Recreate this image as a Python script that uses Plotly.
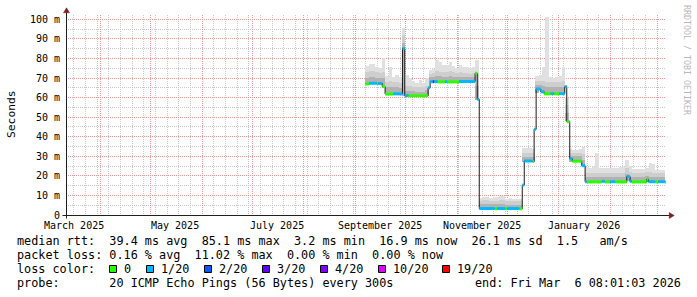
import pandas as pd
import plotly.graph_objects as go

# ---------------- data ----------------
T_START = "2025-03-11 08:01:03"
T_END = "2026-03-06 08:01:03"

y_tick_vals = [0, 10, 20, 30, 40, 50, 60, 70, 80, 90, 100]
y_tick_text = ["0", "10 m", "20 m", "30 m", "40 m", "50 m", "60 m", "70 m", "80 m", "90 m", "100 m"]

x_label_dates = ["2025-03-16", "2025-05-16", "2025-07-16", "2025-09-16", "2025-11-16", "2026-01-16"]
x_label_text = ["March 2025", "May 2025", "July 2025", "September 2025", "November 2025", "January 2026"]

loss_labels = ["0", "1/20", "2/20", "3/20", "4/20", "10/20", "19/20"]
loss_colors = ["#26ff00", "#00b8ff", "#0059ff", "#5e00ff", "#7e00ff", "#dd00ff", "#ff0000"]

# median rtt (ms) as runs: start time, value, loss class
med_start = [
    "2025-09-07 00:00", "2025-09-09 07:00", "2025-09-13 19:00", "2025-09-14 17:00", "2025-09-17 02:00",
    "2025-09-18 19:00", "2025-09-23 17:00", "2025-09-29 05:00", "2025-09-30 14:00", "2025-10-02 17:00",
    "2025-10-14 14:00", "2025-10-15 19:00", "2025-10-17 10:00", "2025-10-18 05:00", "2025-10-20 02:00",
    "2025-10-24 19:00", "2025-10-26 00:00", "2025-11-02 05:00", "2025-11-11 19:00", "2025-11-13 02:00",
    "2025-11-14 07:00", "2025-11-23 12:00", "2025-11-25 02:00", "2025-11-29 19:00", "2025-12-01 02:00",
    "2025-12-08 07:00", "2025-12-10 02:00", "2025-12-11 07:00", "2025-12-16 05:00", "2025-12-17 05:00",
    "2025-12-18 10:00", "2025-12-21 05:00", "2025-12-23 05:00", "2025-12-27 05:00", "2025-12-29 05:00",
    "2026-01-01 05:00", "2026-01-04 14:00", "2026-01-05 19:00", "2026-01-07 14:00", "2026-01-09 02:00",
    "2026-01-14 19:00", "2026-01-16 19:00", "2026-01-17 19:00", "2026-01-26 19:00", "2026-01-28 14:00",
    "2026-01-31 19:00", "2026-02-03 19:00", "2026-02-10 19:00", "2026-02-12 19:00", "2026-02-13 19:00",
    "2026-02-22 19:00", "2026-02-23 19:00", "2026-02-27 19:00", "2026-03-01 17:00", "2026-03-05 17:00",
]
med_ms = [
    67.0, 67.3, 67.0, 67.2, 65.6,
    61.8, 61.9, 85.1, 61.0, 60.9,
    65.0, 68.1, 68.1, 68.2, 68.0,
    68.1, 68.0, 68.2, 72.4, 59.1,
    3.3, 3.2, 3.3, 3.2, 3.3,
    3.2, 15.3, 27.6, 27.4, 43.8,
    64.4, 63.0, 61.9, 62.0, 61.9,
    62.0, 65.6, 47.7, 28.8, 27.5,
    25.2, 17.0, 16.9, 17.2, 16.9,
    17.0, 16.9, 19.6, 17.2, 16.9,
    18.3, 17.0, 16.9, 17.0, 16.9,
]
med_loss = [
    0, 1, 0, 1, 0,
    0, 1, 1, 1, 0,
    1, 1, 3, 1, 0,
    1, 0, 1, 0, 1,
    1, 0, 1, 0, 1,
    0, 1, 1, 0, 1,
    1, 1, 0, 1, 0,
    1, 1, 0, 1, 0,
    1, 1, 0, 1, 0,
    1, 0, 1, 1, 0,
    0, 1, 0, 1, 0,
]
MED_END = "2026-03-06 08:01:03"

# smoke (ping spread, ms) in 2-day bins starting 2025-09-07
SMOKE_FIRST = "2025-09-07"
smoke_lo = [66.8, 66.9, 66.9, 66.7, 67.0, 65.5,
            61.6, 61.6, 61.7, 61.8, 61.8, 61.0,
            60.8, 60.6, 60.6, 60.6, 60.6, 60.6, 60.8,
            67.8, 67.8, 67.8, 68.0, 68.0, 68.0, 68.0, 68.0, 68.0, 68.0, 68.0, 68.0, 68.0, 68.0, 59.0,
            3.2, 3.2, 3.2, 3.2, 3.2, 3.2, 3.2, 3.2, 3.2, 3.2, 3.2, 3.2, 3.2,
            27.3, 27.3, 27.3, 27.3, 62.5,
            64.0, 62.5, 61.7, 61.7, 61.7, 61.7, 61.7, 61.7, 48.0,
            27.3, 27.3, 27.3, 27.3, 25.0,
            16.7, 16.7, 16.7, 16.7, 16.7, 16.7, 16.7, 16.7, 16.7, 16.7, 16.7, 16.7,
            17.5, 17.0, 16.7, 16.7, 16.7, 16.7, 17.0, 16.7, 16.7, 16.7, 16.7, 16.7]
smoke_dark = [70.0, 70.5, 70.5, 70.0, 70.0, 70.0,
              65.5, 65.5, 65.5, 65.5, 65.0, 88.0,
              63.5, 63.5, 63.5, 63.0, 63.0, 63.0, 64.0,
              70.5, 70.5, 71.0, 71.0, 70.5, 70.5, 71.0, 70.5, 70.5, 70.5, 70.5, 70.5, 70.5, 70.5, 66.0,
              5.5, 5.5, 5.5, 5.5, 5.5, 5.5, 5.5, 5.5, 5.2, 5.2, 5.2, 5.2, 5.2,
              29.5, 29.5, 29.5, 29.5, 66.5,
              66.5, 66.0, 65.5, 65.5, 65.5, 65.5, 65.5, 65.5, 52.0,
              30.0, 30.0, 30.0, 30.0, 28.0,
              19.5, 19.5, 19.5, 19.5, 19.5, 19.5, 19.5, 19.5, 19.5, 19.5, 19.5, 19.5,
              21.0, 19.5, 19.5, 19.5, 19.5, 19.5, 19.8, 19.5, 19.5, 19.5, 19.5, 19.5]
smoke_mid = [73.0, 73.5, 73.5, 73.0, 72.5, 73.0,
             68.0, 68.5, 68.0, 68.0, 67.5, 92.0,
             66.0, 66.0, 65.5, 65.5, 65.5, 65.5, 66.0,
             72.0, 72.5, 73.5, 73.0, 73.0, 73.0, 73.5, 73.0, 72.5, 73.0, 72.5, 72.5, 72.0, 72.5, 72.0,
             7.0, 7.5, 7.5, 7.0, 7.0, 7.0, 7.5, 7.5, 7.0, 7.0, 7.0, 7.0, 7.0,
             31.5, 31.5, 31.5, 31.5, 68.5,
             68.5, 68.5, 68.0, 68.0, 68.0, 68.0, 68.0, 68.5, 56.0,
             31.5, 31.5, 31.5, 31.5, 31.0,
             21.5, 21.5, 21.5, 21.5, 21.5, 21.5, 21.5, 21.5, 21.5, 21.5, 21.5, 21.5,
             24.0, 22.0, 21.5, 21.5, 21.5, 21.5, 22.0, 22.0, 21.5, 21.5, 21.5, 21.5]
smoke_hi = [76.0, 77.0, 77.0, 75.8, 75.0, 80.0,
            71.0, 75.8, 70.5, 71.5, 70.5, 95.7,
            71.5, 70.0, 68.5, 67.5, 69.0, 67.5, 70.0,
            74.0, 74.5, 79.0, 78.0, 76.5, 76.5, 78.2, 76.0, 75.0, 76.5, 75.8, 75.5, 74.9, 75.5, 79.0,
            8.5, 9.4, 9.0, 8.5, 8.9, 9.0, 9.7, 9.7, 8.2, 8.5, 8.2, 8.2, 8.2,
            34.0, 34.0, 34.1, 33.5, 71.0,
            71.5, 75.8, 101.0, 70.5, 70.0, 70.5, 71.0, 75.8, 60.0,
            33.5, 33.2, 33.2, 33.5, 35.0,
            24.7, 24.2, 24.5, 31.5, 24.0, 23.9, 24.0, 24.2, 24.2, 24.2, 24.5, 24.5,
            28.1, 25.0, 23.5, 23.5, 23.5, 23.5, 24.0, 26.4, 26.0, 23.2, 23.0, 23.0]

# legend statistics
stat_med = {"avg": "39.4", "max": "85.1", "min": "3.2", "now": "16.9", "sd": "26.1", "am": "1.5"}
stat_loss = {"avg": "0.16", "max": "11.02", "min": "0.00", "now": "0.00"}
probe_text = "20 ICMP Echo Pings (56 Bytes) every 300s"
end_text = "end: Fri Mar  6 08:01:03 2026"

# ---------------- styling / layout helpers ----------------
L, T, W, H = 66, 15, 600, 200
FIG_W, FIG_H = 697, 297
MONO = "DejaVu Sans Mono"
GRID_MINOR = "#c8c8c8"
GRID_MAJOR = "#e79a9a"
AXIS_COL = "#1f1f1f"
ARROW_COL = "#801f1f"
SMOKE_COLS = ["#e0e0e0", "#cecece", "#b2b2b2"]


def px_x(px):
    return (px - L) / W


def px_y(py):
    return (T + H - py) / H


def nb(s):
    return s.replace(" ", "\u00a0")


fig = go.Figure()

# smoke bars
bin_start = pd.date_range(SMOKE_FIRST, periods=len(smoke_hi), freq="2D")
bin_center = bin_start + pd.Timedelta(days=1)
bin_w = 2 * 86400000
for tops, col in zip([smoke_hi, smoke_mid, smoke_dark], SMOKE_COLS):
    fig.add_trace(go.Bar(
        x=bin_center, y=[t - b for t, b in zip(tops, smoke_lo)], base=smoke_lo,
        width=bin_w, marker=dict(color=col, line=dict(width=0)),
        hoverinfo="skip", showlegend=False))

# median black step line
fig.add_trace(go.Scatter(
    x=med_start + [MED_END], y=med_ms + [med_ms[-1]], mode="lines",
    line=dict(color="#1a1a1a", width=1, shape="hv"), hoverinfo="skip", showlegend=False))

# coloured median by loss class
ends = med_start[1:] + [MED_END]
for ci, col in enumerate(loss_colors):
    xs, ys = [], []
    for s, e, v, c in zip(med_start, ends, med_ms, med_loss):
        if c == ci:
            xs += [s, e, None]
            ys += [v, v, None]
    if xs:
        fig.add_trace(go.Scatter(x=xs, y=ys, mode="lines",
                                 line=dict(color=col, width=3),
                                 hoverinfo="skip", showlegend=False))

month_starts = pd.date_range("2025-04-01", "2026-03-01", freq="MS")

fig.update_layout(
    width=FIG_W, height=FIG_H,
    margin=dict(l=L, r=FIG_W - L - W, t=T, b=FIG_H - T - H, pad=0),
    paper_bgcolor="white", plot_bgcolor="white",
    showlegend=False, barmode="overlay", bargap=0,
    font=dict(family=MONO, size=10, color="black"),
    xaxis=dict(
        type="date", range=[T_START, T_END], fixedrange=True,
        tickmode="array", tickvals=month_starts, showticklabels=False, ticks="",
        showgrid=True, gridcolor=GRID_MAJOR, griddash="1px,1px", gridwidth=1,
        zeroline=False, showline=False,
        minor=dict(tickmode="linear", tick0="2025-03-16", dtick=7 * 86400000,
                   showgrid=True, gridcolor=GRID_MINOR, griddash="1px,1px", gridwidth=1, ticks=""),
    ),
    yaxis=dict(
        range=[0, H / 1.957], fixedrange=True,
        tickmode="array", tickvals=y_tick_vals, ticktext=y_tick_text, ticks="",
        tickfont=dict(family=MONO, size=10, color="black"), ticklabelstandoff=5,
        showgrid=True, gridcolor=GRID_MAJOR, griddash="1px,1px", gridwidth=1,
        zeroline=False, showline=False,
        minor=dict(tickmode="linear", tick0=0, dtick=5, showgrid=True,
                   gridcolor=GRID_MINOR, griddash="1px,1px", gridwidth=1, ticks=""),
    ),
)

shapes = []
# axes with arrows
shapes.append(dict(type="line", xref="paper", yref="paper", x0=px_x(66.5), x1=px_x(66.5),
                   y0=px_y(218.5), y1=px_y(12.5), line=dict(color=AXIS_COL, width=1)))
shapes.append(dict(type="line", xref="paper", yref="paper", x0=px_x(62.5), x1=px_x(670),
                   y0=px_y(215.5), y1=px_y(215.5), line=dict(color=AXIS_COL, width=1)))
shapes.append(dict(type="path", xref="paper", yref="paper",
                   path=f"M {px_x(63.5)} {px_y(12.8)} L {px_x(66.5)} {px_y(7.8)} L {px_x(69.5)} {px_y(12.8)} Z",
                   fillcolor=ARROW_COL, line=dict(color=ARROW_COL, width=0.5)))
shapes.append(dict(type="path", xref="paper", yref="paper",
                   path=f"M {px_x(669.2)} {px_y(212.5)} L {px_x(674.2)} {px_y(215.5)} L {px_x(669.2)} {px_y(218.5)} Z",
                   fillcolor=ARROW_COL, line=dict(color=ARROW_COL, width=0.5)))

annotations = []
# x labels
for d, t in zip(x_label_dates, x_label_text):
    annotations.append(dict(x=d, xref="x", y=px_y(225), yref="paper", text=t, showarrow=False,
                            xanchor="center", yanchor="middle", borderpad=0,
                            font=dict(family=MONO, size=10, color="black")))
# y title
annotations.append(dict(x=px_x(11), y=px_y(114), xref="paper", yref="paper", text="Seconds",
                        textangle=-90, showarrow=False, xanchor="center", yanchor="middle",
                        borderpad=0, font=dict(family=MONO, size=11.3, color="black")))
# watermark
annotations.append(dict(x=px_x(687), y=px_y(60), xref="paper", yref="paper",
                        text="RRDTOOL / TOBI OETIKER", textangle=90, showarrow=False,
                        xanchor="center", yanchor="middle", borderpad=0,
                        font=dict(family=MONO, size=8.3, color="#b8b8b8")))

LEG_FONT = dict(family=MONO, size=11.8, color="black")
TXT_X = 15.5
line1 = (f"median rtt:  {stat_med['avg']} ms avg  {stat_med['max']} ms max  {stat_med['min']} ms min  "
         f"{stat_med['now']} ms now  {stat_med['sd']} ms sd  {stat_med['am']}   am/s")
line2 = (f"packet loss: {stat_loss['avg']} % avg  {stat_loss['max']} % max  "
         f"{stat_loss['min']} % min  {stat_loss['now']} % now")
line4 = f"probe:       {probe_text}"
for txt, yc in [(line1, 241), (line2, 255.3), ("loss color:", 268.7), (line4, 283)]:
    annotations.append(dict(x=px_x(TXT_X), y=px_y(yc), xref="paper", yref="paper", text=nb(txt),
                            showarrow=False, xanchor="left", yanchor="middle", borderpad=0,
                            font=LEG_FONT))
annotations.append(dict(x=px_x(682), y=px_y(283), xref="paper", yref="paper", text=nb(end_text),
                        showarrow=False, xanchor="right", yanchor="middle", borderpad=0,
                        font=LEG_FONT))

# loss colour legend swatches
box_left = [109, 146, 204, 262, 320, 378, 442]
for bx, lab, col in zip(box_left, loss_labels, loss_colors):
    shapes.append(dict(type="rect", xref="paper", yref="paper",
                       x0=px_x(bx + 0.5), x1=px_x(bx + 7.5), y0=px_y(265.5), y1=px_y(272.5),
                       fillcolor=col, line=dict(color="black", width=1)))
    annotations.append(dict(x=px_x(bx + 13.5), y=px_y(268.7), xref="paper", yref="paper", text=lab,
                            showarrow=False, xanchor="left", yanchor="middle", borderpad=0,
                            font=LEG_FONT))

fig.update_layout(shapes=shapes, annotations=annotations)
fig.write_html("out.html")
